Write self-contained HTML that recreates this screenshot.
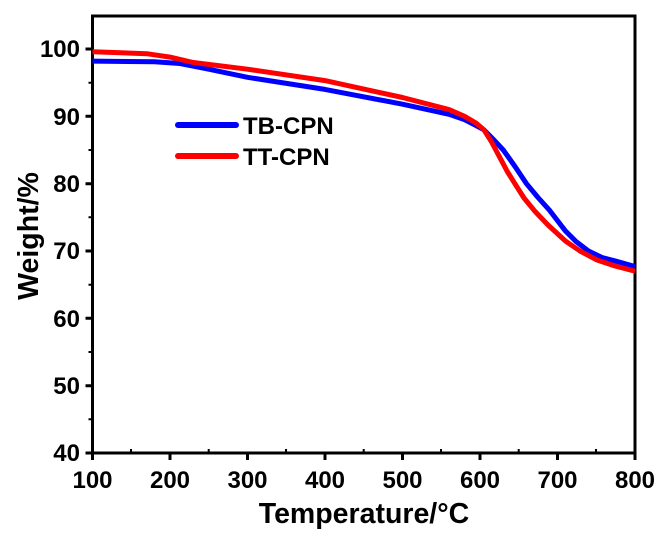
<!DOCTYPE html><html><head><style>body{margin:0;background:#fff}</style></head><body>
<svg width="662" height="534" xmlns="http://www.w3.org/2000/svg" font-family="Liberation Sans, Arial, sans-serif" font-weight="bold">
<g stroke="#000" stroke-width="3" fill="none">
<rect x="92.5" y="16" width="542.5" height="437"/>
<path d="M92.5 453v7M170 453v7M247.5 453v7M325 453v7M402.5 453v7M480 453v7M557.5 453v7M635 453v7"/>
<path d="M131 453v-4M208.7 453v-4M286 453v-4M363.7 453v-4M441 453v-4M518.7 453v-4M596 453v-4" stroke-width="2"/>
<path d="M92.5 49h-7M92.5 116.3h-7M92.5 183.7h-7M92.5 251h-7M92.5 318.3h-7M92.5 385.7h-7M92.5 453h-7"/>
<path d="M92.5 82.7h-4M92.5 150h-4M92.5 217.3h-4M92.5 284.7h-4M92.5 352h-4M92.5 419.3h-4" stroke-width="2"/>
</g>
<g font-size="24" text-anchor="end">
<text x="80" y="57">100</text><text x="80" y="125">90</text><text x="80" y="192">80</text><text x="80" y="259">70</text><text x="80" y="327">60</text><text x="80" y="394">50</text><text x="80" y="461">40</text>
</g>
<g font-size="24" text-anchor="middle">
<text x="92.5" y="488">100</text><text x="170" y="488">200</text><text x="247.5" y="488">300</text><text x="325" y="488">400</text><text x="402.5" y="488">500</text><text x="480" y="488">600</text><text x="557.5" y="488">700</text><text x="635" y="488">800</text>
</g>
<text x="364" y="523" font-size="28.5" text-anchor="middle">Temperature/°C</text>
<text transform="translate(38,236) rotate(-90)" font-size="28.5" text-anchor="middle">Weight/%</text>
<polyline fill="none" stroke="#0000ff" stroke-width="5" stroke-linejoin="round" points="92.5,61.1 154.5,61.8 180,63.5 208.7,69.2 247.5,77.3 325,89.4 402.5,104.2 449,114.3 464.5,119.7 476,125.5 483.9,129.8 493,139 503.3,150 515,166.5 526.5,183.7 538,197.5 549.8,210.6 565.3,230.8 576,241.5 588.5,251 602,257.5 615.6,261.1 635,266.5"/>
<polyline fill="none" stroke="#ff0000" stroke-width="5" stroke-linejoin="round" points="92.5,51.7 146.8,53.7 170,57.1 193.3,62.5 247.5,69.2 325,80.6 402.5,97.5 449,109.6 464.5,116.3 476,123 483.9,129.8 491,141 499.4,156.7 507,171 514.9,183.7 524,198 534.3,210.6 548,225 565.3,240.9 580,251 596.3,259.7 615,266 635,271.2"/>
<line x1="178" y1="125" x2="236" y2="125" stroke="#0000ff" stroke-width="6" stroke-linecap="round"/>
<line x1="178" y1="156" x2="236" y2="156" stroke="#ff0000" stroke-width="6" stroke-linecap="round"/>
<text x="243" y="134" font-size="24">TB-CPN</text>
<text x="243" y="165" font-size="24">TT-CPN</text>
</svg></body></html>
